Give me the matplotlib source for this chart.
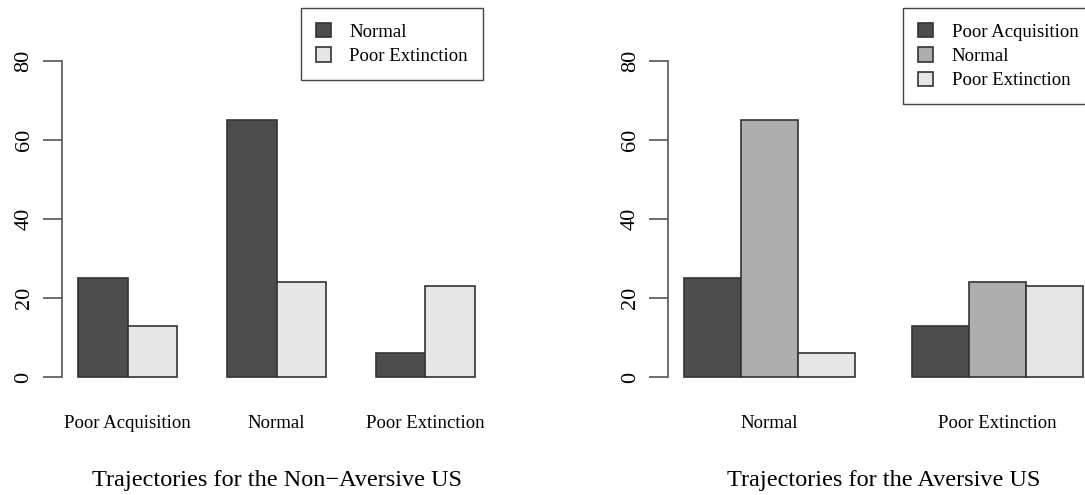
import matplotlib.pyplot as plt
import numpy as np

# Counts by trajectory class for each US type
nonaversive_groups = ["Poor Acquisition", "Normal", "Poor Extinction"]
nonaversive_series = ["Normal", "Poor Extinction"]
nonaversive_normal = [25, 65, 6]
nonaversive_poor_ext = [13, 24, 23]

aversive_groups = ["Normal", "Poor Extinction"]
aversive_series = ["Poor Acquisition", "Normal", "Poor Extinction"]
aversive_poor_acq = [25, 13]
aversive_normal = [65, 24]
aversive_poor_ext = [6, 23]

y_ticks = [0, 20, 40, 60, 80]

titles = ["Trajectories for the Non\u2212Aversive US", "Trajectories for the Aversive US"]

plt.rcParams["font.family"] = ["Liberation Serif", "DejaVu Serif"]

W, H = 1085, 495
fig = plt.figure(figsize=(W / 100, H / 100), dpi=100)

AX_COLOR = "#555555"
EDGE = "#333333"


def grouped_bars(ax, groups, series, values, colors):
    """Side-by-side bars laid out like R's barplot(beside=TRUE)."""
    k = len(series)
    centers = []
    right = 0
    for g in range(len(groups)):
        start = 1 + g * (k + 1)
        for j in range(k):
            ax.bar(start + j, values[j][g], width=1.0, align="edge",
                   color=colors[j], edgecolor=EDGE, linewidth=1.2,
                   label=series[j] if g == 0 else None)
        centers.append(start + k / 2)
        right = start + k
    span = right - 1
    ax.set_xlim(1 - 0.04 * span, right + 0.04 * span)
    ax.set_ylim(-0.04 * 80, 80 * 1.04)
    for s in ("top", "right", "bottom"):
        ax.spines[s].set_visible(False)
    ax.spines["left"].set_bounds(0, 80)
    ax.spines["left"].set_color(AX_COLOR)
    ax.spines["left"].set_linewidth(1.2)
    ax.set_yticks(y_ticks)
    ax.set_yticklabels([str(v) for v in y_ticks], rotation=90, va="center",
                       fontsize=16)
    ax.tick_params(axis="y", length=14, width=1.2, color=AX_COLOR, pad=6.5)
    ax.set_xticks(centers)
    ax.set_xticklabels(groups, fontsize=13.5)
    ax.tick_params(axis="x", length=0, pad=18)
    return centers


bottom = (H - 389.6) / H
height = 341.2 / H

ax1 = fig.add_axes([62 / W, bottom, 429 / W, height])
grouped_bars(ax1, nonaversive_groups, nonaversive_series,
             [nonaversive_normal, nonaversive_poor_ext],
             ["#4D4D4D", "#E6E6E6"])

ax2 = fig.add_axes([668.4 / W, bottom, 430.2 / W, height])
grouped_bars(ax2, aversive_groups, aversive_series,
             [aversive_poor_acq, aversive_normal, aversive_poor_ext],
             ["#4D4D4D", "#AEAEAE", "#E6E6E6"])

legend_kw = dict(frameon=True, fancybox=False, framealpha=1,
                 edgecolor="#444444", fontsize=13.5, handlelength=0.8,
                 handleheight=0.8, handletextpad=1.0, labelspacing=0.35,
                 borderpad=0.8, borderaxespad=0)

lg1 = fig.legend(*ax1.get_legend_handles_labels(), loc="upper right",
                 bbox_to_anchor=(483 / W, 1 - 8 / H), **legend_kw)
lg2 = fig.legend(*ax2.get_legend_handles_labels(), loc="upper left",
                 bbox_to_anchor=(903 / W, 1 - 8 / H), **legend_kw)
for lg in (lg1, lg2):
    lg.get_frame().set_linewidth(1.0)

fig.text((62 + 429 / 2) / W, 1 - 486 / H, titles[0], ha="center",
         va="baseline", fontsize=17.5)
fig.text((668.4 + 430.2 / 2) / W, 1 - 486 / H, titles[1], ha="center",
         va="baseline", fontsize=17.5)

fig.savefig("out.png", dpi=100, facecolor="white")
